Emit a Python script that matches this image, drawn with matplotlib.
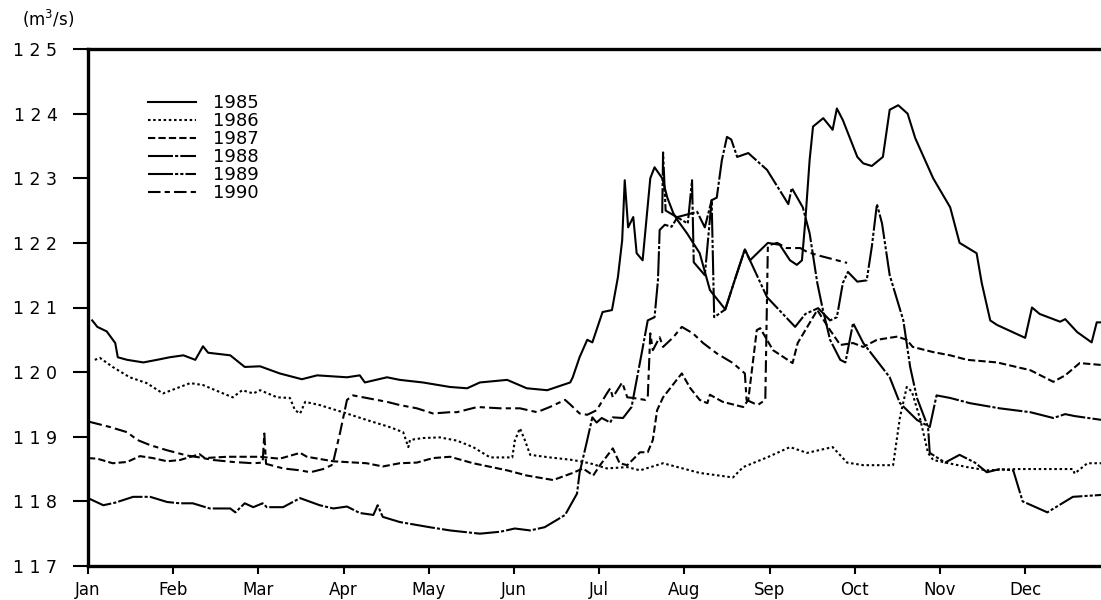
from __future__ import annotations

import matplotlib

matplotlib.use("Agg")

import matplotlib.pyplot as plt

MONTH_LABELS = [
    "Jan", "Feb", "Mar", "Apr", "May", "Jun",
    "Jul", "Aug", "Sep", "Oct", "Nov", "Dec",
]
Y_TICKS = [117, 118, 119, 120, 121, 122, 123, 124, 125]

# time in months from 1 Jan, discharge in m3/s
FLOW_1985 = [
    (0.05, 120.8), (0.11, 120.7), (0.22, 120.63), (0.32, 120.45), (0.35, 120.23),
    (0.46, 120.19), (0.65, 120.15), (0.81, 120.19), (0.96, 120.23), (1.12, 120.26),
    (1.26, 120.19), (1.35, 120.4), (1.41, 120.3), (1.67, 120.26), (1.84, 120.08),
    (2.02, 120.09), (2.25, 119.98), (2.51, 119.89), (2.69, 119.95), (3.04, 119.92),
    (3.19, 119.95), (3.25, 119.84), (3.51, 119.92), (3.66, 119.88), (3.93, 119.84),
    (4.25, 119.77), (4.45, 119.75), (4.60, 119.84), (4.92, 119.88), (5.15, 119.75),
    (5.39, 119.72), (5.66, 119.84), (5.69, 119.92), (5.77, 120.23), (5.86, 120.5),
    (5.92, 120.46), (6.04, 120.93), (6.15, 120.96), (6.22, 121.47), (6.27, 122.04),
    (6.30, 122.97), (6.34, 122.24), (6.40, 122.4), (6.44, 121.84), (6.51, 121.73),
    (6.60, 123.0), (6.65, 123.17), (6.74, 123.0), (6.80, 122.7), (6.87, 122.46),
    (6.92, 122.35), (7.03, 122.15), (7.18, 121.84), (7.30, 121.27), (7.48, 120.97),
    (7.59, 121.42), (7.71, 121.9), (7.77, 121.73), (7.98, 122.0), (8.12, 121.97),
    (8.24, 121.73), (8.32, 121.66), (8.38, 121.73), (8.42, 122.35), (8.47, 123.28),
    (8.51, 123.8), (8.63, 123.93), (8.71, 123.8), (8.74, 123.75), (8.79, 124.08),
    (8.86, 123.9), (9.03, 123.33), (9.10, 123.23), (9.20, 123.19), (9.33, 123.33),
    (9.41, 124.06), (9.51, 124.13), (9.62, 124.0), (9.71, 123.62), (9.92, 123.0),
    (10.12, 122.55), (10.23, 122.0), (10.43, 121.84), (10.49, 121.38), (10.59, 120.8),
    (10.67, 120.73), (11.0, 120.53), (11.08, 121.0), (11.17, 120.9), (11.29, 120.84),
    (11.41, 120.78), (11.47, 120.82), (11.61, 120.62), (11.78, 120.46), (11.84, 120.77),
    (11.9, 120.77),
]
FLOW_1986 = [
    (0.08, 120.19), (0.14, 120.22), (0.29, 120.08), (0.49, 119.92), (0.69, 119.83),
    (0.88, 119.67), (1.04, 119.75), (1.20, 119.83), (1.35, 119.8), (1.55, 119.69),
    (1.70, 119.61), (1.81, 119.72), (1.94, 119.67), (2.02, 119.72), (2.22, 119.61),
    (2.37, 119.6), (2.43, 119.41), (2.49, 119.36), (2.55, 119.54), (2.72, 119.49),
    (2.99, 119.38), (3.27, 119.26), (3.54, 119.15), (3.70, 119.07), (3.76, 118.84),
    (3.78, 118.95), (3.93, 118.98), (4.13, 118.99), (4.33, 118.94), (4.52, 118.84),
    (4.72, 118.68), (4.98, 118.68), (5.01, 118.94), (5.07, 119.13), (5.13, 118.94),
    (5.19, 118.72), (5.42, 118.68), (5.69, 118.64), (5.89, 118.59), (6.09, 118.51),
    (6.33, 118.53), (6.48, 118.48), (6.75, 118.59), (7.18, 118.44), (7.57, 118.37),
    (7.69, 118.53), (7.97, 118.68), (8.24, 118.84), (8.44, 118.75), (8.74, 118.84),
    (8.91, 118.6), (9.10, 118.56), (9.45, 118.56), (9.53, 119.3), (9.61, 119.77),
    (9.67, 119.7), (9.77, 119.26), (9.86, 118.75), (9.92, 118.64), (10.32, 118.53),
    (10.55, 118.48), (10.90, 118.5), (11.56, 118.5), (11.58, 118.43), (11.73, 118.59),
    (11.9, 118.59),
]
FLOW_1987 = [
    (0.0, 118.67), (0.11, 118.66), (0.29, 118.59), (0.46, 118.61), (0.61, 118.7),
    (0.76, 118.67), (0.93, 118.62), (1.08, 118.64), (1.31, 118.73), (1.37, 118.67),
    (1.63, 118.69), (2.02, 118.69), (2.25, 118.66), (2.49, 118.75), (2.57, 118.69),
    (2.88, 118.62), (3.27, 118.59), (3.46, 118.54), (3.66, 118.59), (3.86, 118.6),
    (4.05, 118.67), (4.25, 118.69), (4.52, 118.59), (4.92, 118.48), (5.15, 118.4),
    (5.46, 118.33), (5.69, 118.44), (5.81, 118.51), (5.93, 118.4), (6.01, 118.56),
    (6.16, 118.82), (6.24, 118.59), (6.33, 118.56), (6.48, 118.76), (6.57, 118.76),
    (6.63, 118.95), (6.68, 119.41), (6.75, 119.61), (6.91, 119.88), (6.97, 119.98),
    (7.07, 119.75), (7.18, 119.57), (7.27, 119.52), (7.30, 119.65), (7.45, 119.54),
    (7.69, 119.46), (7.75, 119.57), (7.85, 120.65), (7.89, 120.68), (8.04, 120.34),
    (8.27, 120.14), (8.33, 120.45), (8.56, 120.96), (8.71, 120.65), (8.83, 120.42),
    (8.98, 120.45), (9.10, 120.39), (9.26, 120.5), (9.50, 120.55), (9.61, 120.5),
    (9.68, 120.39), (9.92, 120.31), (10.12, 120.26), (10.32, 120.19), (10.67, 120.15),
    (11.06, 120.03), (11.33, 119.85), (11.47, 119.95), (11.64, 120.14), (11.9, 120.11),
]
FLOW_1988 = [
    (0.0, 118.05), (0.05, 118.02), (0.18, 117.94), (0.32, 117.98), (0.53, 118.07),
    (0.73, 118.07), (0.93, 117.99), (1.08, 117.97), (1.23, 117.97), (1.43, 117.89),
    (1.67, 117.89), (1.73, 117.83), (1.84, 117.97), (1.94, 117.91), (2.05, 117.97),
    (2.10, 117.91), (2.29, 117.91), (2.49, 118.05), (2.72, 117.94), (2.88, 117.89),
    (3.04, 117.92), (3.19, 117.82), (3.35, 117.79), (3.40, 117.94), (3.46, 117.76),
    (3.66, 117.68), (4.01, 117.6), (4.25, 117.55), (4.60, 117.5), (4.84, 117.53),
    (5.01, 117.58), (5.19, 117.55), (5.36, 117.6), (5.50, 117.71), (5.60, 117.79),
    (5.74, 118.12), (5.77, 118.44), (5.86, 118.95), (5.92, 119.3), (5.97, 119.22),
    (6.03, 119.29), (6.13, 119.22), (6.16, 119.3), (6.28, 119.29), (6.38, 119.46),
    (6.44, 119.88), (6.50, 120.3), (6.57, 120.8), (6.65, 120.85), (6.69, 121.42),
    (6.71, 122.2), (6.77, 122.28), (6.85, 122.25), (6.92, 122.4), (7.15, 122.48),
    (7.24, 122.24), (7.32, 122.66), (7.38, 122.7), (7.44, 123.28), (7.50, 123.64),
    (7.55, 123.6), (7.62, 123.33), (7.75, 123.39), (7.97, 123.13), (8.22, 122.6),
    (8.26, 122.85), (8.39, 122.55), (8.47, 122.15), (8.56, 121.38), (8.62, 121.0),
    (8.71, 120.5), (8.83, 120.19), (8.89, 120.15), (8.98, 120.76), (9.10, 120.45),
    (9.41, 119.92), (9.53, 119.52), (9.73, 119.26), (9.88, 119.15), (9.96, 119.64),
    (10.12, 119.6), (10.35, 119.52), (10.70, 119.44), (11.06, 119.38), (11.33, 119.29),
    (11.47, 119.35), (11.58, 119.32), (11.9, 119.26),
]
FLOW_1989 = [
    (6.74, 122.46), (6.75, 123.4), (6.78, 122.5), (7.04, 122.3), (7.09, 122.97),
    (7.11, 121.7), (7.24, 121.5), (7.32, 122.66), (7.35, 120.85), (7.48, 120.97),
    (7.59, 121.42), (7.71, 121.9), (7.77, 121.73), (7.97, 121.16), (8.30, 120.7),
    (8.42, 120.9), (8.57, 120.99), (8.71, 120.8), (8.79, 120.85), (8.86, 121.38),
    (8.92, 121.55), (9.03, 121.4), (9.14, 121.42), (9.20, 121.94), (9.26, 122.6),
    (9.32, 122.3), (9.41, 121.5), (9.57, 120.8), (9.65, 120.08), (9.73, 119.6),
    (9.86, 119.15), (9.88, 118.75), (10.06, 118.6), (10.23, 118.72), (10.41, 118.6),
    (10.55, 118.45), (10.70, 118.5), (10.86, 118.48), (10.97, 118.0), (11.26, 117.83),
    (11.41, 117.95), (11.56, 118.07), (11.9, 118.1),
]
FLOW_1990 = [
    (0.02, 119.23), (0.26, 119.15), (0.46, 119.07), (0.58, 118.95), (0.73, 118.87),
    (0.93, 118.79), (1.16, 118.71), (1.31, 118.68), (1.47, 118.64), (1.70, 118.61),
    (1.94, 118.59), (2.05, 118.6), (2.07, 119.05), (2.09, 118.58), (2.29, 118.51),
    (2.49, 118.48), (2.61, 118.45), (2.76, 118.5), (2.86, 118.56), (2.88, 118.62),
    (2.96, 119.07), (3.04, 119.57), (3.11, 119.64), (3.27, 119.6), (3.51, 119.54),
    (3.66, 119.49), (3.86, 119.44), (4.05, 119.36), (4.25, 119.38), (4.33, 119.38),
    (4.57, 119.46), (4.84, 119.44), (5.07, 119.44), (5.27, 119.38), (5.42, 119.46),
    (5.60, 119.57), (5.66, 119.5), (5.77, 119.36), (5.86, 119.34), (5.97, 119.41),
    (6.09, 119.67), (6.13, 119.75), (6.16, 119.61), (6.27, 119.84), (6.33, 119.61),
    (6.40, 119.6), (6.54, 119.57), (6.57, 119.6), (6.60, 120.6), (6.63, 120.34),
    (6.71, 120.54), (6.75, 120.39), (6.87, 120.54), (6.97, 120.7), (7.10, 120.6),
    (7.22, 120.45), (7.38, 120.29), (7.57, 120.14), (7.71, 119.98), (7.73, 119.57),
    (7.86, 119.49), (7.95, 119.57), (7.98, 121.96), (8.09, 122.0), (8.20, 121.92),
    (8.36, 121.92), (8.44, 121.86), (8.59, 121.8), (8.91, 121.69),
]

SERIES = [
    ("1985", FLOW_1985, "-"),
    ("1986", FLOW_1986, (0, (1.2, 1.3))),
    ("1987", FLOW_1987, (0, (3.5, 1.5))),
    ("1988", FLOW_1988, (0, (12.0, 1.0, 1.5, 1.0))),
    ("1989", FLOW_1989, (0, (12.0, 1.0, 1.5, 1.0, 1.5, 1.0))),
    ("1990", FLOW_1990, (0, (6.0, 2.0, 2.5, 2.0))),
]


def plot_flows(output_path: str) -> None:
    """Draw the daily discharge curves for each year."""
    figure = plt.figure(figsize=(11.01, 6.0), dpi=100)
    axis = figure.add_axes([0.0799, 0.0567, 0.9201, 0.8616])

    for label, points, line_style in SERIES:
        months = [point[0] for point in points]
        values = [point[1] for point in points]
        axis.plot(
            months,
            values,
            color="black",
            linewidth=1.5,
            linestyle=line_style,
            label=label,
        )

    axis.set_xlim(0.0, 11.89)
    axis.set_ylim(117, 125)
    axis.set_xticks(range(len(MONTH_LABELS)), labels=MONTH_LABELS)
    axis.set_yticks(Y_TICKS, labels=[" ".join(str(t)) for t in Y_TICKS])
    axis.tick_params(axis="y", direction="out", length=11, width=1.5,
                     pad=11, labelsize=12.5)
    axis.tick_params(axis="x", direction="out", length=6, width=1.5,
                     pad=5, labelsize=12)

    axis.spines["right"].set_visible(False)
    for side in ("left", "bottom", "top"):
        axis.spines[side].set_linewidth(2.4)

    figure.text(0.02, 0.968, "(m$^3$/s)", fontsize=12, ha="left", va="center")

    axis.legend(
        loc="upper left",
        bbox_to_anchor=(0.05, 0.93),
        frameon=False,
        fontsize=13,
        handlelength=2.7,
        handletextpad=0.9,
        labelspacing=0.0,
        borderpad=0.0,
    )

    figure.savefig(output_path, dpi=100)
    plt.close(figure)


def main() -> None:
    plot_flows("out.png")


if __name__ == "__main__":
    main()
